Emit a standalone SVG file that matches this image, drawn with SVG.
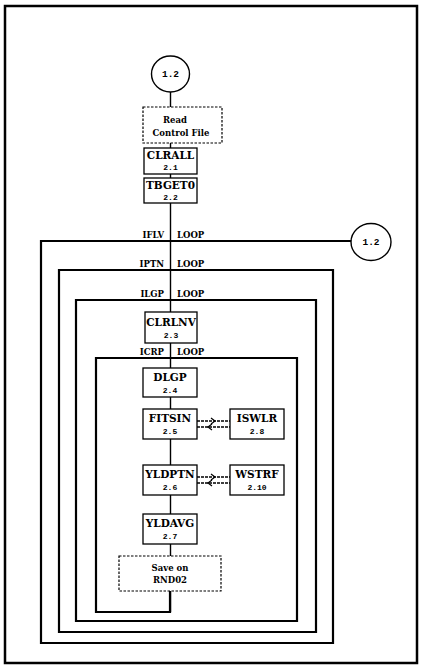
<svg xmlns="http://www.w3.org/2000/svg" width="425" height="668" viewBox="0 0 425 668">
  <style>
    .box { fill: #fff; stroke: #000; stroke-width: 1.3; }
    .dbox { fill: #fff; stroke: #000; stroke-width: 1.2; stroke-dasharray: 2.5 1.5; }
    .circ { fill: #fff; stroke: #000; stroke-width: 1.4; }
    .loop { fill: none; stroke: #000; stroke-width: 2.2; }
    .flow { fill: none; stroke: #000; stroke-width: 1.4; }
    .call { fill: none; stroke: #000; stroke-width: 1.6; stroke-dasharray: 3 1; }
    .head { fill: none; stroke: #000; stroke-width: 1.2; }
    .name { font-family: "DejaVu Serif", "Liberation Serif", serif; font-weight: bold; font-size: 10.5px; text-anchor: middle; }
    .num { font-family: "Liberation Mono", "DejaVu Sans Mono", monospace; font-weight: bold; font-size: 8px; text-anchor: middle; }
    .txt { font-family: "DejaVu Serif", "Liberation Serif", serif; font-weight: bold; font-size: 8.5px; text-anchor: middle; }
    .lbl { font-family: "DejaVu Serif", "Liberation Serif", serif; font-weight: bold; font-size: 8.5px; }
    .con { font-family: "Liberation Mono", "DejaVu Sans Mono", monospace; font-weight: bold; font-size: 9.5px; text-anchor: middle; }
  </style>

  <!-- page frame -->
  <rect x="5" y="6" width="412" height="657" fill="none" stroke="#000" stroke-width="2.5"/>

  <g id="connectors">
    <!-- nested loops drawn as one spiral -->
    <polyline class="loop" points="352,241 41,241 41,643 333,643 333,270 59,270 59,632 316,632 316,300 76,300 76,621 297,621 297,358 96,358 96,612 170,612 170,591"/>
    <!-- main flow line -->
    <line class="flow" x1="170.5" y1="92" x2="170.5" y2="612"/>
    <!-- FITSIN <-> ISWLR -->
    <line class="call" x1="197" y1="421" x2="230" y2="421"/>
    <line class="call" x1="197" y1="427" x2="230" y2="427"/>
    <path class="head" d="M211,418 L215,421 L211,424"/>
    <path class="head" d="M212,424 L208,427 L212,430"/>
    <!-- YLDPTN <-> WSTRF -->
    <line class="call" x1="197" y1="477" x2="230" y2="477"/>
    <line class="call" x1="197" y1="483" x2="230" y2="483"/>
    <path class="head" d="M211,474 L215,477 L211,480"/>
    <path class="head" d="M212,480 L208,483 L212,486"/>
    <!-- loop labels -->
    <text class="lbl" x="164" y="238" text-anchor="end">IFLV</text>
    <text class="lbl" x="177" y="238">LOOP</text>
    <text class="lbl" x="164" y="267" text-anchor="end">IPTN</text>
    <text class="lbl" x="177" y="267">LOOP</text>
    <text class="lbl" x="164" y="297" text-anchor="end">ILGP</text>
    <text class="lbl" x="177" y="297">LOOP</text>
    <text class="lbl" x="164" y="355" text-anchor="end">ICRP</text>
    <text class="lbl" x="177" y="355">LOOP</text>
  </g>

  <g id="c12-top">
    <ellipse class="circ" cx="170.5" cy="74" rx="19" ry="18"/>
    <text class="con" x="170.5" y="77">1.2</text>
  </g>

  <g id="c12-right">
    <ellipse class="circ" cx="371" cy="242" rx="20" ry="18.5"/>
    <text class="con" x="371" y="245">1.2</text>
  </g>

  <g id="read-control">
    <rect class="dbox" x="143" y="107" width="79" height="36"/>
    <text class="txt" x="175" y="123">Read</text>
    <text class="txt" x="181" y="136">Control File</text>
  </g>

  <g id="clrall">
    <rect class="box" x="144" y="148" width="53" height="26"/>
    <text class="name" x="170.5" y="159">CLRALL</text>
    <text class="num" x="170.5" y="169.5">2.1</text>
  </g>

  <g id="tbget0">
    <rect class="box" x="144" y="178" width="53" height="25"/>
    <text class="name" x="170.5" y="189">TBGET0</text>
    <text class="num" x="170.5" y="199.5">2.2</text>
  </g>

  <g id="clrlnv">
    <rect class="box" x="145" y="312" width="52" height="31"/>
    <text class="name" x="171" y="326">CLRLNV</text>
    <text class="num" x="171" y="338">2.3</text>
  </g>

  <g id="dlgp">
    <rect class="box" x="143" y="368" width="54" height="29"/>
    <text class="name" x="170" y="381">DLGP</text>
    <text class="num" x="170" y="393">2.4</text>
  </g>

  <g id="fitsin">
    <rect class="box" x="143" y="409" width="54" height="30"/>
    <text class="name" x="170" y="422">FITSIN</text>
    <text class="num" x="170" y="434">2.5</text>
  </g>

  <g id="iswlr">
    <rect class="box" x="230" y="409" width="54" height="30"/>
    <text class="name" x="257" y="422">ISWLR</text>
    <text class="num" x="257" y="434">2.8</text>
  </g>

  <g id="yldptn">
    <rect class="box" x="143" y="465" width="54" height="30"/>
    <text class="name" x="170" y="478">YLDPTN</text>
    <text class="num" x="170" y="490">2.6</text>
  </g>

  <g id="wstrf">
    <rect class="box" x="230" y="465" width="54" height="30"/>
    <text class="name" x="257" y="478">WSTRF</text>
    <text class="num" x="257" y="490">2.10</text>
  </g>

  <g id="yldavg">
    <rect class="box" x="143" y="514" width="54" height="30"/>
    <text class="name" x="170" y="527">YLDAVG</text>
    <text class="num" x="170" y="539">2.7</text>
  </g>

  <g id="save-rnd02">
    <rect class="dbox" x="119" y="556" width="102" height="35"/>
    <text class="txt" x="170" y="571">Save on</text>
    <text class="txt" x="170" y="583">RND02</text>
  </g>
</svg>
